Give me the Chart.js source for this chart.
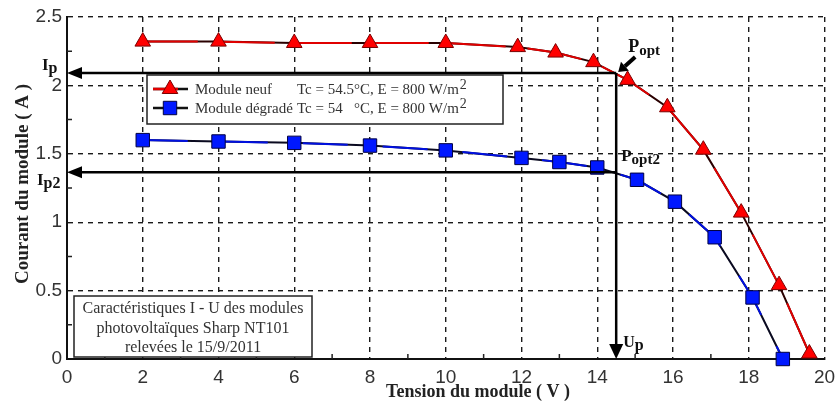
<!DOCTYPE html>
<html>
<head>
<meta charset="utf-8">
<title>Caractéristiques I - U</title>
<script src="https://cdn.jsdelivr.net/npm/chart.js@4/dist/chart.umd.min.js"></script>
<style>
    html, body { margin: 0; padding: 0; background: #fff; }
    #wrap { width: 835px; height: 403px; }
</style>
</head>
<body>
<div id="wrap"><canvas id="ivChart" width="835" height="403"></canvas></div>
<script>
// Points relevés
const tensionNeuf = [2, 4, 6, 8, 10, 11.9, 12.9, 13.9, 14.8, 15.85, 16.8, 17.8, 18.8, 19.6];
const courantNeuf = [2.32, 2.32, 2.31, 2.31, 2.31, 2.28, 2.24, 2.17, 2.04, 1.84, 1.53, 1.07, 0.54, 0.04];

const tensionDegrade = [2, 4, 6, 8, 10, 12, 13, 14, 15.05, 16.05, 17.1, 18.1, 18.9];
const courantDegrade = [1.60, 1.59, 1.58, 1.56, 1.525, 1.47, 1.44, 1.40, 1.31, 1.15, 0.89, 0.45, 0.0];

// Points de puissance optimale
const pOpt = { u: 14.5, i: 2.09 };
const courantIp2 = 1.365;

const legendNames = ['Module neuf', 'Module dégradé'];
const legendConditions = ['Tc = 54.5°C, E = 800 W/m', 'Tc = 54   °C, E = 800 W/m'];
const noteLines = ['Caractéristiques I - U des modules', 'photovoltaïques Sharp NT101', 'relevées le 15/9/2011'];

const toPoints = (xs, ys) => xs.map((u, k) => ({ x: u, y: ys[k] }));

const SERIF = '"Liberation Serif", "Times New Roman", serif';
const SANS = '"Liberation Sans", Arial, sans-serif';

function arrow(ctx, x1, y1, x2, y2, head, half) {
    const ang = Math.atan2(y2 - y1, x2 - x1);
    const bx = x2 - head * Math.cos(ang);
    const by = y2 - head * Math.sin(ang);
    ctx.beginPath();
    ctx.moveTo(x1, y1);
    ctx.lineTo(bx, by);
    ctx.stroke();
    ctx.beginPath();
    ctx.moveTo(x2, y2);
    ctx.lineTo(bx + half * Math.sin(ang), by - half * Math.cos(ang));
    ctx.lineTo(bx - half * Math.sin(ang), by + half * Math.cos(ang));
    ctx.closePath();
    ctx.fill();
}

// text with a lowered index, e.g. I + p2
function label(ctx, x, y, main, sub, size, subSize, drop) {
    ctx.font = `bold ${size}px ${SERIF}`;
    ctx.fillText(main, x, y);
    const w = ctx.measureText(main).width;
    ctx.font = `bold ${subSize}px ${SERIF}`;
    ctx.fillText(sub, x + w, y + drop);
}

const annotations = {
    id: 'ivAnnotations',
    beforeDatasetsDraw(chart) {
        const { ctx, chartArea: a, scales: { x, y } } = chart;
        // petites graduations intermédiaires
        ctx.save();
        ctx.strokeStyle = '#222';
        ctx.lineWidth = 1.5;
        ctx.beginPath();
        for (let u = 1; u < 20; u += 2) {
            const px = x.getPixelForValue(u);
            ctx.moveTo(px, a.bottom);
            ctx.lineTo(px, a.bottom - 5);
        }
        for (let v = 0.25; v < 2.5; v += 0.5) {
            const py = y.getPixelForValue(v);
            ctx.moveTo(a.left, py);
            ctx.lineTo(a.left + 5, py);
        }
        ctx.stroke();
        ctx.restore();
    },
    afterDatasetsDraw(chart) {
        const { ctx, chartArea: a, scales: { x, y } } = chart;
        const ds = chart.data.datasets;
        ctx.save();

        // legend box
        ctx.fillStyle = '#fff';
        ctx.fillRect(147, 75, 356, 49);
        ctx.strokeStyle = '#222';
        ctx.lineWidth = 1.5;
        ctx.strokeRect(147, 75, 356, 49);
        const rows = [89, 108];
        rows.forEach((ry, k) => {
            ctx.lineWidth = 2.5;
            ctx.strokeStyle = '#111';
            ctx.beginPath();
            ctx.moveTo(153, ry);
            ctx.lineTo(188, ry);
            ctx.stroke();
            if (k === 0) {
                ctx.strokeStyle = ds[0].borderColor;
                ctx.beginPath();
                ctx.moveTo(153, ry);
                ctx.lineTo(178, ry);
                ctx.stroke();
            }
            ctx.fillStyle = ds[k].pointBackgroundColor;
            ctx.strokeStyle = ds[k].pointBorderColor;
            ctx.lineWidth = 1;
            Chart.helpers.drawPoint(ctx, {
                pointStyle: ds[k].pointStyle, radius: ds[k].pointRadius, rotation: 0, borderWidth: 1
            }, 170, ry);
            ctx.fillStyle = '#333';
            ctx.textBaseline = 'middle';
            ctx.textAlign = 'left';
            ctx.font = `15px ${SERIF}`;
            ctx.fillText(legendNames[k], 195, ry + 1);
            ctx.fillText(legendConditions[k], 297, ry + 1);
            const w = ctx.measureText(legendConditions[k]).width;
            ctx.font = `14px ${SERIF}`;
            ctx.fillText('2', 297 + w + 1, ry - 4);
        });

        // note box
        ctx.fillStyle = '#fff';
        ctx.fillRect(74, 296, 238, 61);
        ctx.strokeStyle = '#222';
        ctx.lineWidth = 1.5;
        ctx.strokeRect(74, 296, 238, 61);
        ctx.fillStyle = '#333';
        ctx.textAlign = 'center';
        ctx.textBaseline = 'middle';
        ctx.font = `16px ${SERIF}`;
        noteLines.forEach((t, k) => ctx.fillText(t, 193, 309 + k * 19.5));

        // flèches Ip, Ip2, Up
        const px = x.getPixelForValue(pOpt.u);
        const py = y.getPixelForValue(pOpt.i);
        const py2 = y.getPixelForValue(courantIp2);
        ctx.strokeStyle = '#000';
        ctx.fillStyle = '#000';
        ctx.lineWidth = 2.5;
        arrow(ctx, px, py, a.left, py, 15, 6);
        arrow(ctx, px, py2, a.left, py2, 15, 6);
        arrow(ctx, px, py, px, a.bottom, 15, 7);
        ctx.lineWidth = 4;
        arrow(ctx, px + 19, py - 16, px + 2, py - 1, 9, 6);

        // textes
        ctx.fillStyle = '#111';
        ctx.textAlign = 'left';
        ctx.textBaseline = 'alphabetic';
        label(ctx, a.left - 25, py - 3, 'I', 'p', 17, 16, 3);
        label(ctx, a.left - 30, py2 + 13, 'I', 'p2', 17, 16, 3);
        label(ctx, px + 12, py - 21, 'P', 'opt', 18, 15, 3);
        label(ctx, px + 5, py2 - 11, 'P', 'opt2', 17, 15, 3);
        label(ctx, px + 7, a.bottom - 12, 'U', 'p', 16, 16, 3);

        // titres des axes
        ctx.fillStyle = '#222';
        ctx.font = `bold 18px ${SERIF}`;
        ctx.textAlign = 'center';
        ctx.fillText('Tension du module ( V )', 478, 397);
        ctx.font = `bold 19px ${SERIF}`;
        ctx.translate(28, 184);
        ctx.rotate(-Math.PI / 2);
        ctx.fillText('Courant du module ( A )', 0, 0);
        ctx.restore();
    }
};

const gridStyle = { color: '#1a1a1a', lineWidth: 1.4, drawTicks: false };
const borderStyle = { display: true, color: '#111', width: 2, dash: [5, 5] };
const tickFont = { family: SANS, size: 19 };

new Chart(document.getElementById('ivChart'), {
    type: 'line',
    data: {
        datasets: [
            {
                label: legendNames[0],
                data: toPoints(tensionNeuf, courantNeuf),
                borderColor: '#e00000',
                borderWidth: 2,
                borderDash: [55, 22],
                pointStyle: 'triangle',
                pointRadius: 9,
                pointBackgroundColor: '#ff0000',
                pointBorderColor: '#7a0000',
                pointBorderWidth: 1,
                clip: 12
            },
            {
                label: legendNames[1],
                data: toPoints(tensionDegrade, courantDegrade),
                borderColor: '#0010e0',
                borderWidth: 2,
                borderDash: [45, 35],
                pointStyle: 'rect',
                pointRadius: 9.5,
                pointBackgroundColor: '#0018ff',
                pointBorderColor: '#000040',
                pointBorderWidth: 1,
                clip: 12
            },
            {
                label: 'trace neuf',
                data: toPoints(tensionNeuf, courantNeuf),
                borderColor: '#2a0000',
                borderWidth: 2,
                pointRadius: 0,
                clip: 12
            },
            {
                label: 'trace dégradé',
                data: toPoints(tensionDegrade, courantDegrade),
                borderColor: '#0a0a20',
                borderWidth: 2,
                pointRadius: 0,
                clip: 12
            }
        ]
    },
    options: {
        responsive: false,
        animation: false,
        layout: { padding: { top: 17, right: 10, left: 0, bottom: 0 } },
        plugins: {
            legend: { display: false },
            tooltip: { enabled: false }
        },
        elements: { line: { tension: 0 } },
        scales: {
            x: {
                type: 'linear',
                min: 0,
                max: 20,
                grid: gridStyle,
                border: borderStyle,
                ticks: {
                    stepSize: 2,
                    autoSkip: false,
                    maxRotation: 0,
                    padding: 7,
                    color: '#333',
                    font: tickFont
                },
                afterFit(scale) {
                    scale.height = 44;
                    scale.paddingLeft = 0;
                    scale.paddingRight = 0;
                }
            },
            y: {
                type: 'linear',
                min: 0,
                max: 2.5,
                grid: gridStyle,
                border: borderStyle,
                ticks: {
                    stepSize: 0.5,
                    padding: 5,
                    color: '#333',
                    font: tickFont,
                    callback: (v) => String(v)
                },
                afterFit(scale) {
                    scale.width = 67;
                    scale.paddingTop = 0;
                    scale.paddingBottom = 0;
                }
            }
        }
    },
    plugins: [annotations]
});
</script>
</body>
</html>
